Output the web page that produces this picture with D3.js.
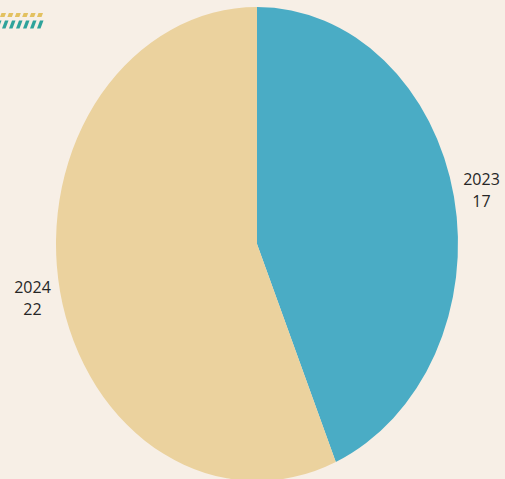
<!DOCTYPE html>
<html><head><meta charset="utf-8">
<script src="https://cdn.jsdelivr.net/npm/d3@7"></script>
<style>
html,body{margin:0;padding:0;background:#f7efe6;}
svg{display:block;}
</style></head>
<body>
<svg id="chart" width="505" height="479"></svg>
<script>
const categories = ["2023", "2024"];
const values = [17, 22];
const colors = ["#4aacc5", "#ebd29e"];

const W = 505, H = 479;
const cx = 257, cy = 244, rx = 201, ry = 237;
const svg = d3.select("#chart");
svg.append("rect").attr("width", W).attr("height", H).attr("fill", "#f7efe6");

// decoration top-left
const deco = svg.append("g");
d3.range(6).forEach(i => {
  const x0 = i * 7.4;
  deco.append("path")
    .attr("d", `M${x0},17 L${x0+1.5},13 L${x0+6},13 L${x0+4.5},17 Z`)
    .attr("fill", "#e3c160");
});
d3.range(7).forEach(i => {
  const x0 = i * 7 - 5;
  deco.append("path")
    .attr("d", `M${x0},28.5 L${x0+3},20.5 L${x0+6.5},20.5 L${x0+3.5},28.5 Z`)
    .attr("fill", "#2ea39b");
});

const data = categories.map((c, i) => ({cat: c, value: values[i], color: colors[i]}));
const pie = d3.pie().sort(null).value(d => d.value);
const arcs = pie(data);
const arc = d3.arc().innerRadius(0).outerRadius(ry);
const labelArc = d3.arc().innerRadius(ry * 1.14).outerRadius(ry * 1.14);
const sx = rx / ry;

const g = svg.append("g").attr("transform", `translate(${cx},${cy}) scale(${sx},1)`);
g.selectAll("path").data(arcs).enter().append("path")
  .attr("d", arc)
  .attr("fill", d => d.data.color);

const lg = svg.append("g").attr("transform", `translate(${cx},${cy})`);
arcs.forEach(d => {
  const [x, y] = labelArc.centroid(d);
  const t = lg.append("text")
    .attr("x", x * sx).attr("y", y)
    .attr("text-anchor", "middle")
    .attr("font-family", "Open Sans, sans-serif")
    .attr("font-size", 16)
    .attr("fill", "#262626");
  t.append("tspan").attr("x", x * sx).attr("dy", "-0.3em").text(d.data.cat);
  t.append("tspan").attr("x", x * sx).attr("dy", "1.35em").text(d.data.value);
});
</script>
</body></html>
